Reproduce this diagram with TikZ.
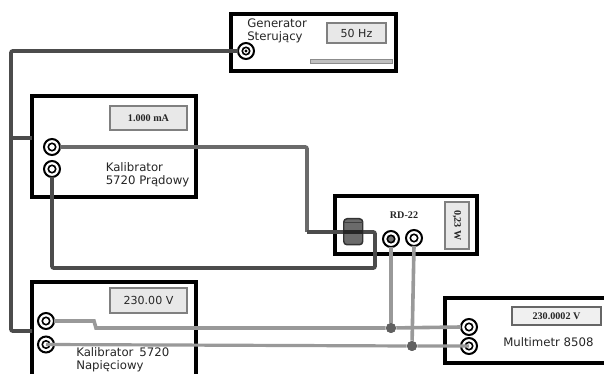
\documentclass[tikz,border=0pt]{standalone}
\usepackage{fontspec}
\setmainfont{Liberation Serif}
\newfontfamily\vsans{DejaVu Sans}
\usetikzlibrary{calc}
\definecolor{wdark}{gray}{0.30}
\definecolor{wmid}{gray}{0.42}
\definecolor{wgrey}{gray}{0.60}
\definecolor{dispfill}{gray}{0.91}
\definecolor{dispedge}{gray}{0.50}
\tikzset{
  x=0.75pt,y=-0.75pt,
  device/.style={draw=black,line width=2.7pt,fill=white,inner sep=0pt,outer sep=0pt,rectangle},
  display/.style={draw=dispedge,line width=1.3pt,fill=dispfill,inner sep=0pt,outer sep=0pt,rectangle,align=center},
  darkwire/.style={draw=wdark,line width=2.9pt,rounded corners=1.5pt},
  midwire/.style={draw=wmid,line width=2.9pt,rounded corners=1.5pt},
  greywire/.style={draw=wgrey,line width=2.7pt},
  jackA/.style={circle,draw=black,line width=1.5pt,fill=white,minimum size=12pt,inner sep=0pt,outer sep=0pt},
  jackin/.style={circle,draw=black,line width=1.2pt,fill=white,minimum size=5.6pt,inner sep=0pt},
  junct/.style={circle,fill=black!62,minimum size=7.5pt,inner sep=0pt},
  lab/.style={font=\vsans\fontsize{8.8}{9.75}\selectfont,align=left,inner sep=0pt,anchor=west,text=black!85},
  disp/.style={font=\fontsize{7.6}{9}\selectfont\bfseries,text=black!85},
  dispsans/.style={font=\vsans\fontsize{8.3}{10}\selectfont,text=black!85}
}
\newcommand{\boxat}[5]{\node[#1,minimum width=#4*0.75pt,minimum height=#5*0.75pt,anchor=north west] (#2) at #3 {};}
\begin{document}
\begin{tikzpicture}
\useasboundingbox (0,0) rectangle (604,374);
\clip (0,0) rectangle (604,374);
% devices
\boxat{device}{gen}{(231,14)}{165}{57}
\boxat{device}{kp}{(32,96)}{164}{101}
\boxat{device}{rd}{(335,196)}{142}{58}
\boxat{device}{kn}{(32,282)}{164}{96}
\boxat{device}{mm}{(445,298)}{163}{65}
% displays
\node[display,minimum width=44.25pt,minimum height=15pt,anchor=north west,dispsans] (dgen) at (327,23) {50 Hz};
\node[draw=black!45,fill=black!25,line width=0.6pt,minimum width=61.5pt,minimum height=2.6pt,inner sep=0pt,anchor=north west] (bar) at (310,59.5) {};
\node[display,minimum width=57.75pt,minimum height=18pt,anchor=north west,disp] (dkp) at (110,106) {1.000 mA};
\node[display,minimum width=18pt,minimum height=35.25pt,anchor=north west] (drd) at (445,202) {};
\node[disp,rotate=-90] (drdt) at (drd.center) {0,23 W};
\node[display,minimum width=57.75pt,minimum height=18.75pt,anchor=north west,dispsans] (dkn) at (110,288) {230.00 V};
\node[display,draw=black!60,fill=black!6,minimum width=66.75pt,minimum height=13.5pt,anchor=north west,disp] (dmm) at (512,307) {230.0002 V};
% labels
\node[lab] (tgen) at (247,30.5) {Generator\\Sterujący};
\node[lab] (tkp) at (105.5,174.5) {Kalibrator\\5720 Prądowy};
\node[font=\fontsize{7.6}{9}\selectfont\bfseries,text=black!85] (trd) at (404,215) {RD-22};
\node[lab] (tkn) at (76,359.5) {Kalibrator\,\,\,5720\\Napięciowy};
\node[lab] (tmm) at (503,342) {Multimetr 8508};
% jacks
\node[jackA] (jg) at (246,51) {};
\node[jackA] (jk1) at (52,147) {};
\node[jackA] (jk2) at (52,169) {};
\node[jackA] (jr1) at (391,239) {};
\node[jackA] (jr2) at (414,238) {};
\node[jackA] (jn1) at (46,321) {};
\node[jackA] (jn2) at (46,344.5) {};
\node[jackA] (jm1) at (469,327) {};
\node[jackA] (jm2) at (469,346) {};
% helper coordinates
\coordinate (bt) at (11,51);
\coordinate (bb) at (11,331);
\coordinate (stub) at (11,138);
\coordinate (w1) at (307,147);
\coordinate (w2) at (307,232);
\coordinate (w3) at (375,232);
\coordinate (w4) at (375,268);
\coordinate (w5) at (52,268);
\coordinate (n1) at (94,321);
\coordinate (n2) at (96,328);
% junctions
\node[junct] (x1) at (391,328) {};
\node[junct] (x2) at (412,346) {};
% dark wires
\draw[darkwire] (jg.west) -- (bt) -- (bb) -- (kn.west |- bb);
\draw[darkwire] (stub) -- (kp.west |- stub);
\draw[midwire] (jk1.east) -- (w1) -- (w2);
\draw[darkwire] (w2) -- (w3) -- (w4) -- (w5) -- (jk2.south);
% choke
\node[draw=black!80,fill=black!58,line width=1.1pt,rounded corners=2.5pt,minimum width=14.25pt,minimum height=19.5pt,inner sep=0pt,anchor=north west] (ch) at (343,218) {};
\fill[black!75] ([xshift=0.6pt,yshift=-3pt]ch.north west) rectangle ([xshift=-0.6pt,yshift=-4pt]ch.north east);
\draw[black!85,line width=2.9pt] (ch.west |- w2) -- (ch.east |- w2);
% grey wires
\draw[greywire] (jr1.south) -- (x1);
\draw[greywire] (jr2.south) -- (x2);
\draw[greywire] (jn1.east) -- (n1) -- (n2) -- (x1) -- (jm1.west);
% jack centres
\node[jackin] at (jg) {};
\fill[black] (jg) circle (1.3pt);
\foreach \j in {jk1,jk2,jr2,jn1,jn2,jm1,jm2}{\node[jackin] at (\j) {};}
\node[jackin,fill=black!55] at (jr1) {};
\draw[greywire,line width=2.4pt] (jn2.center) -- (x2) -- (jm2.center);
\node[junct] at (x1) {};
\node[junct] at (x2) {};
\end{tikzpicture}
\end{document}
